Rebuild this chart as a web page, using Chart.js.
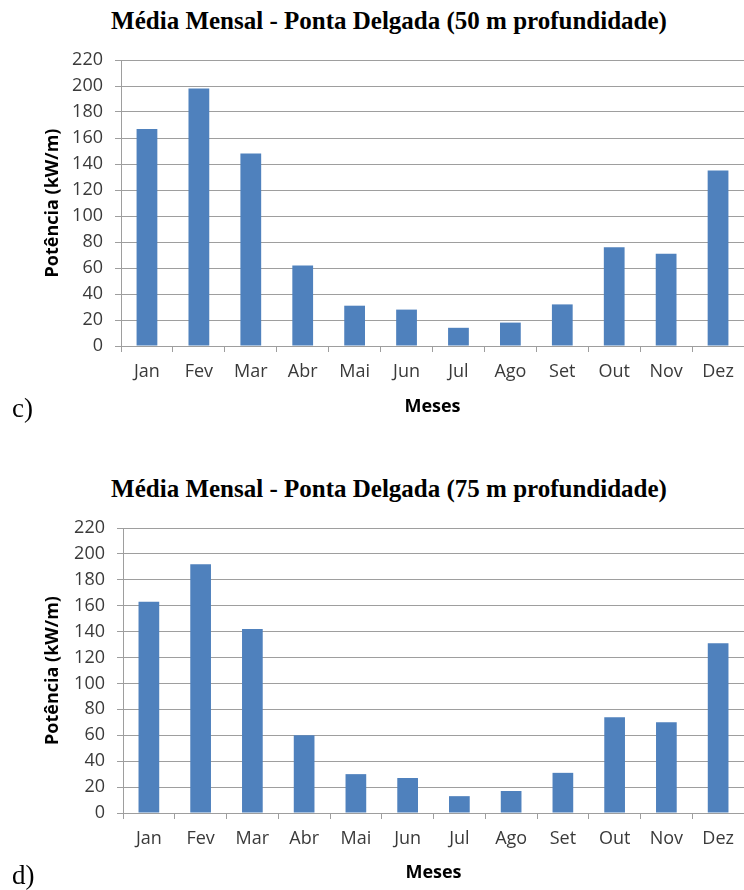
<!DOCTYPE html>
<html>
<head>
<meta charset="utf-8">
<script src="https://cdn.jsdelivr.net/npm/chart.js@4/dist/chart.umd.min.js"></script>
<style>
  html, body { margin: 0; padding: 0; background: #fff; }
  body { width: 744px; height: 890px; position: relative; overflow: hidden; }
  .title { position: absolute; left: 0; width: 778px; text-align: center;
           font-family: "Liberation Serif", "Times New Roman", serif; font-weight: bold;
           font-size: 25px; color: #000; white-space: nowrap; line-height: 1; }
  .lbl { position: absolute; font-family: "Liberation Serif", "Times New Roman", serif;
         font-size: 27px; color: #000; line-height: 1; }
  .wrap { position: absolute; left: 0; width: 744px; }
</style>
</head>
<body>
<div class="title" style="top:8px;">Média Mensal - Ponta Delgada (50 m profundidade)</div>
<div class="wrap" style="top:0px;height:430px;"><canvas id="c1"></canvas></div>
<div class="lbl" style="left:12px;top:395px;">c)</div>

<div class="title" style="top:476px;">Média Mensal - Ponta Delgada (75 m profundidade)</div>
<div class="wrap" style="top:470px;height:420px;"><canvas id="c2"></canvas></div>
<div class="lbl" style="left:12px;top:862px;">d)</div>

<script>
const months = ["Jan","Fev","Mar","Abr","Mai","Jun","Jul","Ago","Set","Out","Nov","Dez"];
const pot50m = [167, 198, 148, 62, 31, 28, 14, 18, 32, 76, 71, 135];
const pot75m = [163, 192, 142, 60, 30, 27, 13, 17, 31, 74, 70, 131];
const yTicksMin = 0, yTicksMax = 220, yTicksStep = 20;
const yTitle = "Potência (kW/m)";
const xTitle = "Meses";

const tickFont = { family: "'Open Sans', 'Liberation Sans', sans-serif", size: 18 };
const titleFont = { family: "'Open Sans', 'Liberation Sans', sans-serif", size: 18, weight: 'bold' };
const gridColor = '#9e9e9e';

function makeChart(id, data, cfg) {
  return new Chart(document.getElementById(id), {
    type: 'bar',
    data: {
      labels: months,
      datasets: [{ data: data, backgroundColor: '#4f81bd', borderWidth: 0,
                   categoryPercentage: 1.0, barPercentage: 0.4 }]
    },
    options: {
      responsive: true, maintainAspectRatio: false, animation: false,
      devicePixelRatio: 1,
      layout: { padding: { top: cfg.top, left: 0, right: 0, bottom: 0 } },
      plugins: { legend: { display: false }, tooltip: { enabled: false }, title: { display: false } },
      scales: {
        x: {
          grid: { display: true, drawOnChartArea: false, drawTicks: true, tickLength: 6,
                  offset: true, color: gridColor, lineWidth: 1 },
          border: { display: true, color: gridColor, width: 1 },
          ticks: { font: tickFont, color: '#3a3a3a', padding: cfg.xpad, maxRotation: 0, autoSkip: false },
          title: { display: true, text: xTitle, font: titleFont, color: '#000',
                   padding: { top: 0, bottom: cfg.xtpad } },
          afterFit: (s) => { s.height = cfg.xh; }
        },
        y: {
          min: yTicksMin, max: yTicksMax,
          grid: { display: true, drawTicks: true, tickLength: 6, color: gridColor, lineWidth: 1 },
          border: { display: true, color: gridColor, width: 1 },
          ticks: { stepSize: yTicksStep, font: tickFont, color: '#3a3a3a', padding: 12 },
          title: { display: true, text: yTitle, font: titleFont, color: '#000',
                   padding: { top: cfg.ytpad, bottom: 0 } },
          afterFit: (s) => { s.width = cfg.yw; }
        }
      }
    }
  });
}

makeChart('c1', pot50m, { top: 60, xh: 84, xpad: 9, xtpad: 12, yw: 121, ytpad: 42 });
makeChart('c2', pot75m, { top: 58, xh: 77, xpad: 9, xtpad: 6, yw: 123, ytpad: 42 });
</script>
</body>
</html>
